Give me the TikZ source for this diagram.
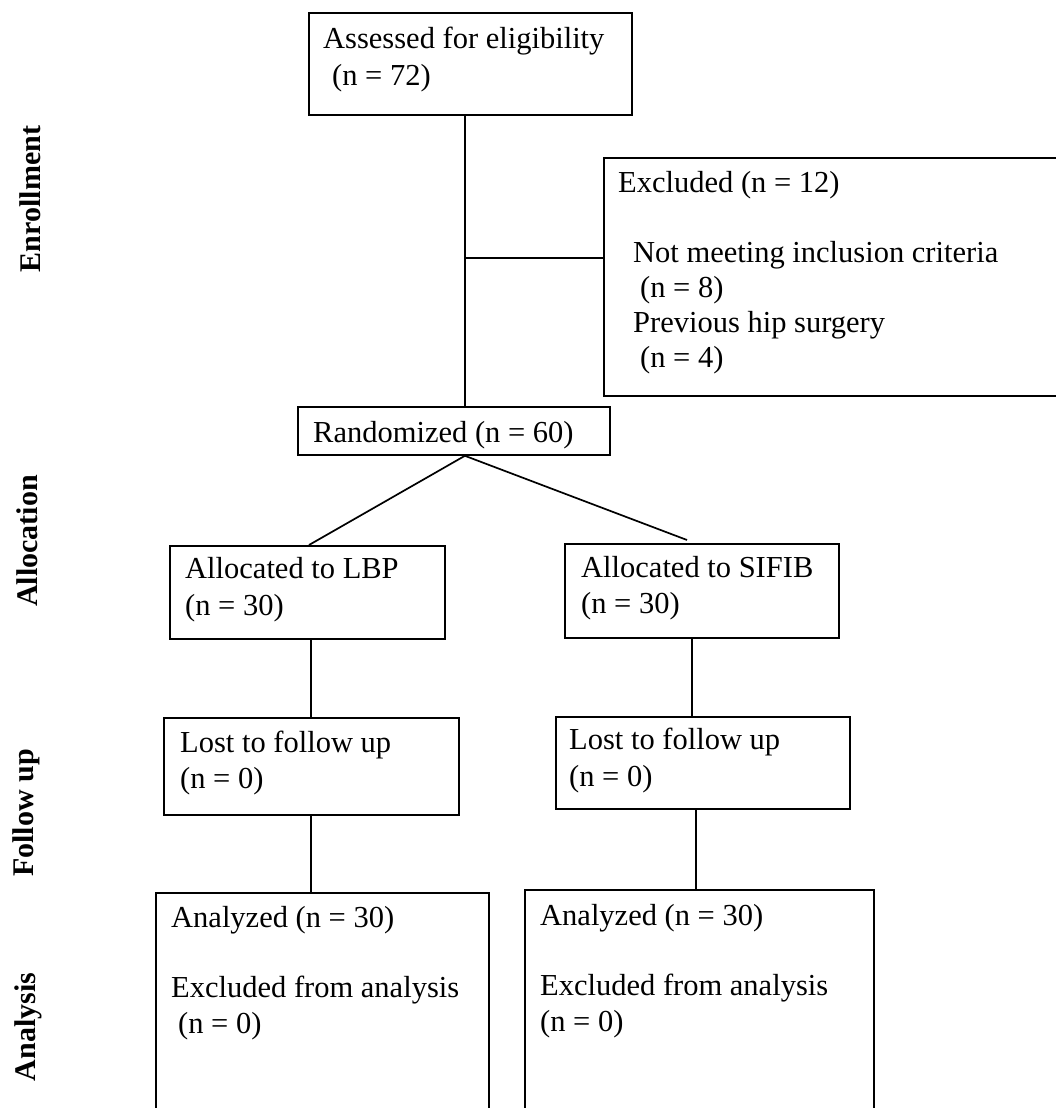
\documentclass[tikz,border=0pt]{standalone}
\usepackage{fontspec}
\setmainfont{Liberation Serif}
\begin{document}
\begin{tikzpicture}[x=1pt,y=-1pt,
  box/.style={draw, line width=1.8pt, inner sep=0pt, anchor=north west},
  txt/.style={anchor=north west, inner sep=0pt, align=left, font=\fontsize{30.5}{36}\selectfont},
  side/.style={rotate=90, anchor=base, inner sep=0pt, font=\fontsize{30}{36}\selectfont\bfseries},
  link/.style={line width=1.7pt}]
\useasboundingbox (0,0) rectangle (1056,1108);
\clip (0,0) rectangle (1056,1108);

% boxes
\node[box, minimum width=323pt, minimum height=102pt] (assessed) at (308,12) {};
\node[box, minimum width=470pt, minimum height=238pt] (excl) at (603,157) {};
\node[box, minimum width=312pt, minimum height=48pt] (rand) at (297,406) {};
\node[box, minimum width=275pt, minimum height=93pt] (allocL) at (169,545) {};
\node[box, minimum width=274pt, minimum height=94pt] (allocR) at (564,543) {};
\node[box, minimum width=295pt, minimum height=97pt] (lostL) at (163,717) {};
\node[box, minimum width=294pt, minimum height=92pt] (lostR) at (555,716) {};
\node[box, minimum width=333pt, minimum height=240pt] (anaL) at (155,892) {};
\node[box, minimum width=349pt, minimum height=240pt] (anaR) at (524,889) {};

% texts
\node[txt, font=\fontsize{30.5}{37}\selectfont] (assessedT) at (323,48-25.9) {\strut Assessed for eligibility\\\hspace*{9pt}(n = 72)};
\node[txt, font=\fontsize{30.5}{35}\selectfont] (exclT) at (618,192-24.5) {\strut Excluded (n = 12)\\[35pt]\hspace*{15pt}Not meeting inclusion criteria\\\hspace*{22pt}(n = 8)\\\hspace*{15pt}Previous hip surgery\\\hspace*{22pt}(n = 4)};
\node[txt] (randT) at (313,442-25.2) {\strut Randomized (n = 60)};
\node[txt, font=\fontsize{30.5}{37}\selectfont] (allocLT) at (185,578-25.9) {\strut Allocated to LBP\\(n = 30)};
\node[txt] (allocRT) at (581,577-25.2) {\strut Allocated to SIFIB\\(n = 30)};
\node[txt] (lostLT) at (180,752-25.2) {\strut Lost to follow up\\(n = 0)};
\node[txt, font=\fontsize{30.5}{37}\selectfont] (lostRT) at (569,749-25.9) {\strut Lost to follow up\\(n = 0)};
\node[txt] (anaLT) at (171,927-25.2) {\strut Analyzed (n = 30)\\[34pt]Excluded from analysis\\\hspace*{7pt}(n = 0)};
\node[txt] (anaRT) at (540,925-25.2) {\strut Analyzed (n = 30)\\[34pt]Excluded from analysis\\(n = 0)};

% side labels
\node[side] (enr) at (40,199) {Enrollment};
\node[side] (alloc) at (37,541) {Allocation};
\node[side] (fol) at (33,813) {Follow up};
\node[side] (ana) at (35,1027) {Analysis};

% connectors
\coordinate (top) at ([xshift=-5.5pt]assessed.south);
\draw[link] (top) -- (top |- rand.north);
\coordinate (j) at (464,258);
\draw[link] (j) -- (j -| excl.west);
\coordinate (apex) at ([xshift=11pt]rand.south);
\coordinate (endL) at (309,545);
\coordinate (endR) at (687,540);
\draw[link] (apex) -- (endL);
\draw[link] (apex) -- (endR);
\coordinate (vL1) at (311,638);
\draw[link] (vL1) -- (vL1 |- lostL.north);
\coordinate (vL2) at (311,814);
\draw[link] (vL2) -- (vL2 |- anaL.north);
\coordinate (vR1) at (692,637);
\draw[link] (vR1) -- (vR1 |- lostR.north);
\coordinate (vR2) at (696,808);
\draw[link] (vR2) -- (vR2 |- anaR.north);
\end{tikzpicture}
\end{document}
